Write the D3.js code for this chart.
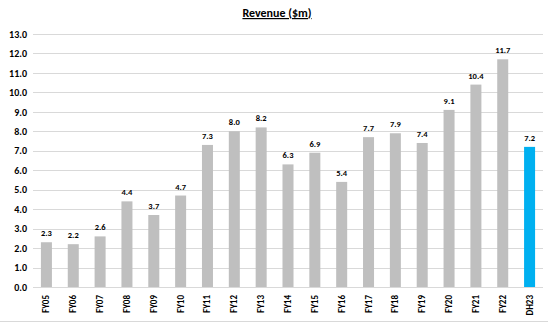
<!DOCTYPE html>
<html>
<head>
<meta charset="utf-8">
<script src="https://cdn.jsdelivr.net/npm/d3@7"></script>
<style>
  html, body { margin: 0; padding: 0; background: #fff; }
  svg { display: block; }
  text { font-family: Carlito, Calibri, "Liberation Sans Narrow", Arial, "Liberation Sans", sans-serif; font-weight: bold; fill: #000; }
</style>
</head>
<body>
<svg id="chart" width="553" height="324"></svg>
<script>
const categories = ["FY05","FY06","FY07","FY08","FY09","FY10","FY11","FY12","FY13","FY14","FY15","FY16","FY17","FY18","FY19","FY20","FY21","FY22","DH23"];
const revenue = [2.3,2.2,2.6,4.4,3.7,4.7,7.3,8.0,8.2,6.3,6.9,5.4,7.7,7.9,7.4,9.1,10.4,11.7,7.2];
const highlight = ["DH23"];
const yTicks = [0,1,2,3,4,5,6,7,8,9,10,11,12,13];
const title = "Revenue ($m)";

const svg = d3.select("#chart");
const plotLeft = 33, plotRight = 543, plotTop = 34, plotBottom = 287;

const x = d3.scaleBand().domain(categories).range([plotLeft, plotRight]).paddingInner(0.59).paddingOuter(0.295);
const y = d3.scaleLinear().domain([0, 13]).range([plotBottom, plotTop]);

// gridlines
svg.append("g")
  .selectAll("line").data(yTicks).join("line")
  .attr("x1", plotLeft).attr("x2", plotRight)
  .attr("y1", d => Math.round(y(d)) + 0.5).attr("y2", d => Math.round(y(d)) + 0.5)
  .attr("stroke", "#d9d9d9").attr("stroke-width", 1);

// y axis labels
const yAxis = d3.axisLeft(y).tickValues(yTicks).tickFormat(d3.format(".1f")).tickSize(0).tickPadding(6);
const ya = svg.append("g").attr("transform", `translate(${plotLeft},0)`).call(yAxis);
ya.select(".domain").remove();
ya.selectAll("text").style("font-size", "10px").attr("font-family", null).attr("fill", "#000");

// bars
svg.append("g").selectAll("rect").data(categories).join("rect")
  .attr("x", d => x(d))
  .attr("width", x.bandwidth())
  .attr("y", (d, i) => y(revenue[i]))
  .attr("height", (d, i) => y(0) - y(revenue[i]))
  .attr("fill", d => highlight.includes(d) ? "#00b0f0" : "#bfbfbf");

// value labels
svg.append("g").selectAll("text").data(categories).join("text")
  .attr("x", d => x(d) + x.bandwidth() / 2)
  .attr("y", (d, i) => y(revenue[i]) - 6)
  .attr("text-anchor", "middle")
  .style("font-size", "8.5px")
  .text((d, i) => d3.format(".1f")(revenue[i]));

// x axis labels
const xAxis = d3.axisBottom(x).tickSize(0).tickPadding(0);
const xa = svg.append("g").attr("transform", `translate(0,${plotBottom})`).call(xAxis);
xa.select(".domain").remove();
xa.selectAll("text")
  .attr("font-family", null)
  .attr("fill", "#000")
  .style("font-size", "9px")
  .attr("text-anchor", "end")
  .attr("dy", null)
  .attr("y", 0)
  .attr("transform", "translate(3,8) rotate(-90)")
  .attr("x", 0);

// title
svg.append("text")
  .attr("x", 277).attr("y", 17)
  .attr("text-anchor", "middle")
  .style("font-size", "12px")
  .attr("text-decoration", "underline")
  .text(title);

// bottom frame line
svg.append("line").attr("x1", 0).attr("x2", 548).attr("y1", 321.5).attr("y2", 321.5)
  .attr("stroke", "#d9d9d9").attr("stroke-width", 1);
</script>
</body>
</html>
